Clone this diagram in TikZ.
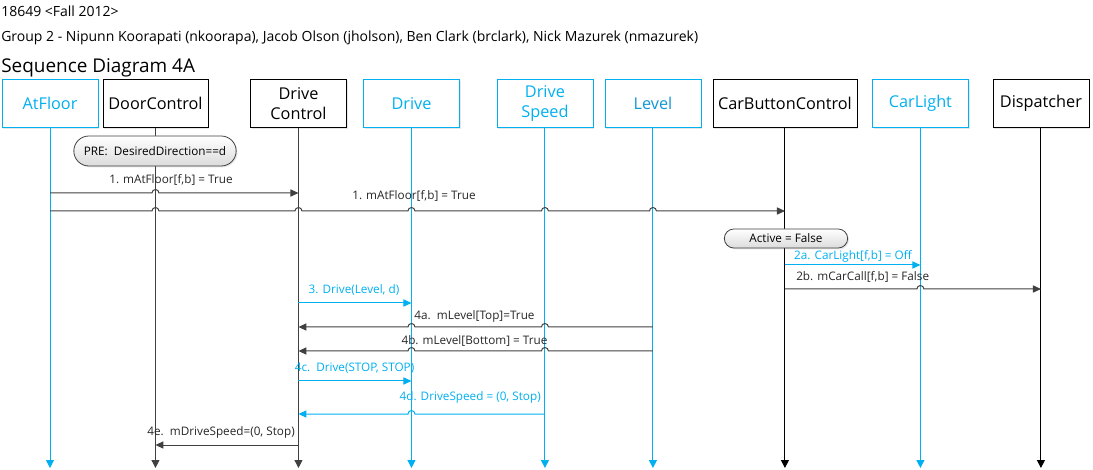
\documentclass[tikz,border=0pt]{standalone}
\usepackage{fontspec}
\setmainfont{Open Sans}
\usetikzlibrary{arrows.meta,positioning,shapes.misc,shadows,calc}
\definecolor{vblue}{HTML}{00B0F0}
\definecolor{vgray}{HTML}{404040}
\definecolor{lvblue}{HTML}{1197D4}
\tikzset{
  obj/.style={draw=black, fill=white, minimum width=72pt, minimum height=36pt, inner sep=1pt,
    align=center, font=\fontsize{12.2}{15.5}\selectfont,
    drop shadow={shadow xshift=1pt, shadow yshift=-1pt, opacity=0.2}},
  objblue/.style={obj, draw=vblue, text=vblue},
  life/.style={line width=0.75pt, -{Triangle[length=6pt,width=6pt]}},
  msg/.style={line width=0.75pt, vgray, -{Triangle[length=6pt,width=5.4pt]}},
  msgblue/.style={msg, vblue},
  lbl/.style={font=\fontsize{8.8}{10}\selectfont, inner sep=0pt, text=black!85},
  lblblue/.style={lbl, text=vblue},
  cond/.style={rounded rectangle, draw=vgray, line width=0.6pt, top color=white, bottom color=black!14,
    inner sep=1pt, font=\fontsize{8.8}{10}\selectfont,
    drop shadow={shadow xshift=1pt, shadow yshift=-1pt, opacity=0.2}},
  head/.style={anchor=base west, inner sep=0pt}
}
\begin{document}
\begin{tikzpicture}[x=0.75pt, y=-0.75pt, on grid]
  \useasboundingbox (0,0) rectangle (1093,470);
  \node [head, font=\fontsize{10.5}{12}\selectfont] (course) at (1,17) {18649 <Fall 2012>};
  \node [head, font=\fontsize{10.5}{12}\selectfont] (group) at (1,41.5) {Group 2 - Nipunn Koorapati (nkoorapa), Jacob Olson (jholson), Ben Clark (brclark), Nick Mazurek (nmazurek)};
  \node [head, font=\fontsize{14.2}{17}\selectfont] (title) at (1,73) {Sequence Diagram 4A};

  \node [objblue] (AtFloor) at (50,103.5) {AtFloor};
  \node [obj, minimum width=78.75pt] (DoorControl) [right=79.1pt of AtFloor] {DoorControl};
  \node [obj] (DriveControl) [right=107.25pt of DoorControl] {Drive\\Control};
  \node [objblue] (Drive) [right=84.75pt of DriveControl] {Drive};
  \node [objblue] (DriveSpeed) [right=100.1pt of Drive] {Drive\\Speed};
  \node [objblue, text=lvblue] (Level) [right=81pt of DriveSpeed] {Level};
  \node [obj, minimum width=108pt] (CarButtonControl) [right=99pt of Level] {CarButtonControl};
  \node [objblue] (CarLight) [right=101.6pt of CarButtonControl] {CarLight};
  \node [obj] (Dispatcher) [right=90.4pt of CarLight] {Dispatcher};

  \foreach \n/\col in {AtFloor/vblue, DoorControl/vgray, DriveControl/vgray, Drive/vblue, DriveSpeed/vblue,
      Level/vblue, CarButtonControl/black, CarLight/vblue, Dispatcher/black}
    \draw [life, \col] (\n) -- (\n |- 0,468);

  \node [cond, minimum width=123.75pt, minimum height=22.5pt] (pre) at (155,151) {PRE:\ \ DesiredDirection==d};

  % 1.
  \draw [msg] (AtFloor |- 0,193) -- ($(DoorControl |- 0,193)+(-3.5,0)$) arc[start angle=180, end angle=360, radius=3.5]
    -- (DriveControl |- 0,193);
  \node [lbl] (m1) at (171,180) {1. mAtFloor[f,b] = True};
  \draw [msg] (AtFloor |- 0,211) \foreach \h in {DoorControl,DriveControl,Drive,DriveSpeed,Level}
    { -- ($(\h |- 0,211)+(-3.5,0)$) arc[start angle=180, end angle=360, radius=3.5] } -- (CarButtonControl |- 0,211);
  \node [lbl] (m1b) at (414,196) {1. mAtFloor[f,b] = True};

  % 2.
  \node [cond, minimum width=94.5pt, minimum height=14.25pt] (active) at (786,238.5) {Active = False};
  \draw [msgblue] (CarButtonControl |- 0,265) -- (CarLight |- 0,265);
  \node [lblblue] (m2a) at (853,256) {2a. CarLight[f,b] = Off};
  \draw [msg] (CarButtonControl |- 0,289) -- ($(CarLight |- 0,289)+(-3.5,0)$) arc[start angle=180, end angle=360, radius=3.5]
    -- (Dispatcher |- 0,289);
  \node [lbl, anchor=west] (m2b) at (796,277) {2b. mCarCall[f,b] = False};

  % 3. and 4.
  \draw [msgblue] (DriveControl |- 0,303) -- (Drive |- 0,303);
  \node [lblblue] (m3) at (354,290) {3. Drive(Level, d)};
  \foreach \y/\t in {327/{4a.\ \ mLevel[Top]=True}, 351/{4b. mLevel[Bottom] = True}} {
    \draw [msg] (Level |- 0,\y) \foreach \h in {DriveSpeed,Drive}
      { -- ($(\h |- 0,\y)+(3.5,0)$) arc[start angle=0, end angle=-180, radius=3.5] } -- (DriveControl |- 0,\y);
    \node [lbl] (m4-\y) at (474.5,\y-10.5) {\t};
  }
  \draw [msgblue] (DriveControl |- 0,381) -- (Drive |- 0,381);
  \node [lblblue] (m4c) at (354.5,368) {4c.\ \ Drive(STOP, STOP)};
  \draw [msgblue] (DriveSpeed |- 0,414) -- ($(Drive |- 0,414)+(3.5,0)$) arc[start angle=0, end angle=-180, radius=3.5]
    -- (DriveControl |- 0,414);
  \node [lblblue, anchor=east] (m4d) at (541,397) {4d. DriveSpeed = (0, Stop)};
  \draw [msg] (DriveControl |- 0,445) -- (DoorControl |- 0,445);
  \node [lbl, anchor=east] (m4e) at (295,432) {4e.\ \ mDriveSpeed=(0, Stop)};
\end{tikzpicture}
\end{document}
